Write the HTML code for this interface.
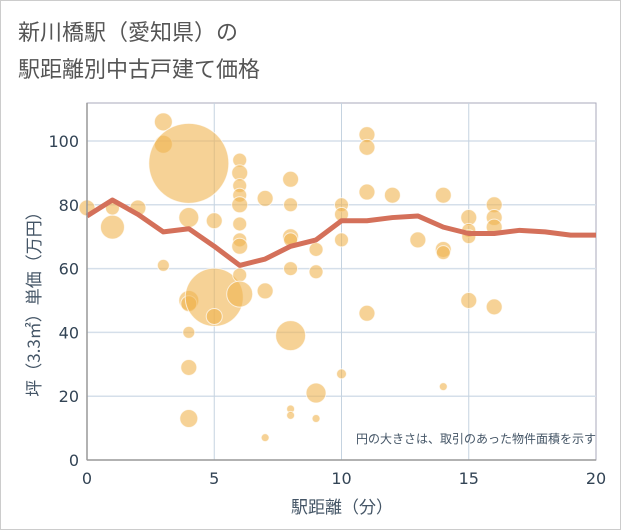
<!DOCTYPE html>
<html><head><meta charset="utf-8"><style>
body{margin:0;background:#fff;}
#wrap{width:619px;height:528px;border:1px solid #ccc;position:relative;overflow:hidden;font-family:"Liberation Sans","Noto Sans CJK JP",sans-serif;}
</style></head><body>
<div id="wrap">
<svg id="svg" width="621" height="530" style="position:absolute;left:-1px;top:-1px">
<text x="18" y="40" font-size="22" fill="#555" font-family="Noto Sans CJK JP, sans-serif">新川橋駅（愛知県）の</text>
<text x="18" y="77" font-size="22" fill="#555" font-family="Noto Sans CJK JP, sans-serif">駅距離別中古戸建て価格</text>
<g id="grid"></g><g id="bubbles"></g><g id="line"></g><g id="axes"></g>
<text x="596" y="443" font-size="12" fill="#456" text-anchor="end" font-family="Noto Sans CJK JP, sans-serif">円の大きさは、取引のあった物件面積を示す</text>
<text x="342" y="513" font-size="17" fill="#456" text-anchor="middle" font-family="Noto Sans CJK JP, sans-serif">駅距離（分）</text>
<text transform="translate(40,300) rotate(-90)" font-size="17" fill="#456" text-anchor="middle" font-family="Noto Sans CJK JP, sans-serif">坪（3.3㎡）単価（万円）</text>
</svg></div>
<script>
const xTicks=[0,5,10,15,20];
const yTicks=[0,20,40,60,80,100];
const bx=[0,1,1,2,3,3,3,4,4,4,4,4,4,4,5,5,5,6,6,6,6,6,6,6,6,6,6,7,7,7,8,8,8,8,8,8,8,8,9,9,9,9,10,10,10,10,11,11,11,11,12,13,14,14,14,14,15,15,15,15,16,16,16,16];
const by=[79,73,79,79,106,99,61,93,76,50,49,40,29,13,75,51,45,94,90,86,83,80,74,69,67,58,52,82,53,7,88,80,70,69,60,39,16,14,66,59,21,13,80,77,69,27,102,98,84,46,83,69,83,66,65,23,76,72,70,50,80,76,73,48];
const bs=[8,12,7,8,9,9,6,40,10,10,8,6,8,9,8,29,8,7,8,7,7,8,7,7,8,7,13,8,8,4,8,7,8,7,7,15,4,4,7,7,10,4,7,7,7,5,8,8,8,8,8,8,8,8,7,4,8,7,7,8,8,8,8,8];
const lx=[0,1,2,3,4,5,6,7,8,9,10,11,12,13,14,15,16,17,18,19,20];
const ly=[76.5,81.5,77,71.5,72.5,67,61,63,67,69,75,75,76,76.5,73,71,71,72,71.5,70.5,70.5];
const X0=87,X1=596,Y0=460,Y1=141;
const sx=v=>X0+(X1-X0)*v/20, sy=v=>Y0-(Y0-Y1)*v/100;
const NS='http://www.w3.org/2000/svg';
function mk(t,a,p){const e=document.createElementNS(NS,t);for(const k in a)e.setAttribute(k,a[k]);p.appendChild(e);return e;}
const g=document.getElementById('grid');
const bg=mk('rect',{x:X0,y:103,width:X1-X0,height:Y0-103,fill:'#fff',stroke:'#aab',"stroke-width":1},g);


yTicks.forEach(v=>{if(v>0){const l=mk('line',{x1:X0,x2:X1,y1:sy(v),y2:sy(v),stroke:'#d5dfea',"stroke-width":1.5},g);

}
const t=mk('text',{x:X0-8,y:sy(v)+6,"font-size":16,fill:'#345',"text-anchor":'end',"font-family":'DejaVu Sans, sans-serif'},g);t.textContent=v;

});
xTicks.forEach(v=>{if(v>0&&v<20){const l=mk('line',{x1:sx(v),x2:sx(v),y1:103,y2:Y0,stroke:'#c5d3e0',"stroke-width":1},g);

}
const t=mk('text',{x:sx(v),y:Y0+24,"font-size":16,fill:'#345',"text-anchor":'middle',"font-family":'DejaVu Sans, sans-serif'},g);t.textContent=v;

});
const a=document.getElementById('axes');
const ax=mk('line',{x1:X0,x2:X1,y1:Y0,y2:Y0,stroke:'#999',"stroke-width":1.5},a);


const ay=mk('line',{x1:X0,x2:X0,y1:103,y2:Y0,stroke:'#999',"stroke-width":1.5},a);


const b=document.getElementById('bubbles');
bx.forEach((v,i)=>{const c=mk('circle',{cx:sx(v),cy:sy(by[i]),r:bs[i],fill:'rgba(240,180,80,0.6)',stroke:'rgba(255,255,255,0.7)',"stroke-width":1},b);

});
const L=document.getElementById('line');
const p=mk('polyline',{points:lx.map((v,i)=>sx(v)+','+sy(ly[i])).join(' '),fill:'none',stroke:'#d4705a',"stroke-width":5,"stroke-linejoin":'round'},L);


</script>
</body></html>
